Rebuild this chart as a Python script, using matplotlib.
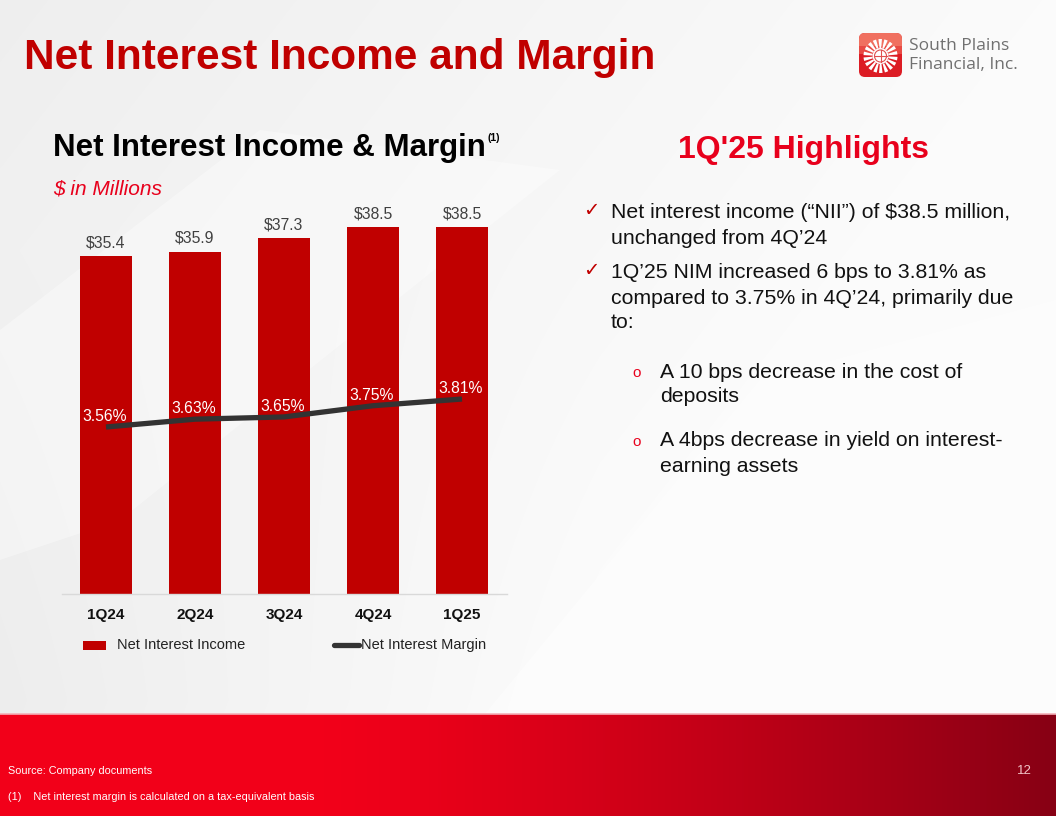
import numpy as np
import matplotlib
matplotlib.use("Agg")
import matplotlib.pyplot as plt
from matplotlib.patches import FancyBboxPatch, Wedge, Circle, Rectangle, Polygon
from matplotlib.lines import Line2D

plt.rcParams["font.family"] = ["Liberation Sans", "DejaVu Sans"]

# ---- data ----
quarters = ["1Q24", "2Q24", "3Q24", "4Q24", "1Q25"]
nii = [35.4, 35.9, 37.3, 38.5, 38.5]          # $ millions
nim = [3.56, 3.63, 3.65, 3.75, 3.81]          # percent

bullets = [
    ["Net interest income (\u201cNII\u201d) of $38.5 million,", "unchanged from 4Q\u201924"],
    ["1Q\u201925 NIM increased 6 bps to 3.81% as",
     "compared to 3.75% in 4Q\u201924, primarily due", "to:"],
]
sub_bullets = [
    ["A 10 bps decrease in the cost of", "deposits"],
    ["A 4bps decrease in yield on interest-", "earning assets"],
]

W, H = 1056, 816
RED = "#c00000"
BRIGHT = "#e8001c"

fig = plt.figure(figsize=(W / 100, H / 100), dpi=100)

# ---- slide background (pixel coordinate axes) ----
bg = fig.add_axes([0, 0, 1, 1])
bg.set_xlim(0, W)
bg.set_ylim(H, 0)
bg.axis("off")

yy, xx = np.mgrid[0:H, 0:W]
shade = 0.985 - 0.05 * np.clip(1 - (xx / W + 0.6 * yy / H), 0, 1)
shade -= 0.03 * np.clip((yy - 250) / 450, 0, 1) * np.clip(1 - xx / 600, 0, 1)
img = np.dstack([shade, shade, shade])
bg.imshow(img, extent=(0, W, H, 0), zorder=0, aspect="auto")

# soft diagonal light shapes
bg.add_patch(Polygon([[0, 330], [260, 130], [560, 170], [120, 520], [0, 560]],
                     closed=True, color="white", alpha=0.35, lw=0, zorder=1))
bg.add_patch(Polygon([[480, 720], [760, 380], [1056, 300], [1056, 720]],
                     closed=True, color="white", alpha=0.45, lw=0, zorder=1))

# footer band
fx = np.linspace(0, 1, 600)
ramp = np.clip((fx - 0.3) / 0.7, 0, 1) ** 1.3
r = 0.95 - 0.42 * ramp
g = 0.0 * ramp
b = 0.10 - 0.02 * ramp
band = np.dstack([np.tile(r, (40, 1)), np.tile(g, (40, 1)), np.tile(b, (40, 1))])
bg.imshow(band, extent=(0, W, H, 714), zorder=2, aspect="auto")
bg.plot([0, W], [714, 714], color="#f4b0b8", lw=1.2, zorder=3)

# ---- titles ----
bg.text(24, 58, "Net Interest Income and Margin", color=RED, fontsize=30.5,
        fontweight="bold", va="center", ha="left", zorder=5)
bg.text(53, 148, "Net Interest Income & Margin", color="black", fontsize=22.5,
        fontweight="bold", va="center", ha="left", zorder=5)
bg.text(488, 138, "(1)", color="black", fontsize=7.5, fontweight="bold",
        va="center", ha="left", zorder=5)
bg.text(53, 189, "$ in Millions", color=BRIGHT, fontsize=15, style="italic",
        va="center", ha="left", zorder=5)

# ---- logo ----
bg.add_patch(FancyBboxPatch((859, 33), 43, 44, boxstyle="round,pad=0,rounding_size=6",
                            fc="#dc1c24", ec="none", zorder=5))
bg.add_patch(FancyBboxPatch((859, 33), 43, 20, boxstyle="round,pad=0,rounding_size=6",
                            fc="#f07060", ec="none", zorder=5))
bg.add_patch(Rectangle((859, 46), 43, 8, fc="#e84a44", ec="none", zorder=5))
for k in range(18):
    a = k * 360 / 18
    bg.add_patch(Wedge((880.5, 56), 17, a + 3, a + 15, width=9, fc="white", ec="none", zorder=6))
bg.add_patch(Circle((880.5, 56), 8, fc="white", ec="none", zorder=6))
bg.add_patch(Circle((880.5, 56), 6, fc="none", ec="#e05050", lw=0.8, zorder=7))
bg.plot([874.5, 886.5], [56, 56], color="#e05050", lw=0.8, zorder=7)
bg.plot([880.5, 880.5], [50, 62], color="#e05050", lw=0.8, zorder=7)
bg.text(909, 46, "South Plains", color="#707070", fontsize=12.5, family="Open Sans",
        va="center", ha="left", zorder=5)
bg.text(909, 65, "Financial, Inc.", color="#707070", fontsize=12.5, family="Open Sans",
        va="center", ha="left", zorder=5)

# ---- highlights ----
bg.text(803, 150, "1Q'25 Highlights", color=BRIGHT, fontsize=23, fontweight="bold",
        va="center", ha="center", zorder=5)
ys_main = [[213, 238], [273, 298, 322]]
for lines, ys in zip(bullets, ys_main):
    bg.text(591, ys[0] - 2, "\u2713", color=RED, fontsize=14, family="DejaVu Sans",
            va="center", ha="center", zorder=5)
    for t, y in zip(lines, ys):
        bg.text(611, y, t, color="#111111", fontsize=15.3, va="center", ha="left", zorder=5)
ys_sub = [[372, 397], [441, 466]]
for lines, ys in zip(sub_bullets, ys_sub):
    bg.text(637, ys[0] + 1, "o", color=BRIGHT, fontsize=11, va="center", ha="center", zorder=5)
    for t, y in zip(lines, ys):
        bg.text(660, y, t, color="#111111", fontsize=15.3, va="center", ha="left", zorder=5)

# ---- footer text ----
narrow = ["Liberation Sans Narrow", "Liberation Sans"]
bg.text(8, 771, "Source: Company documents", color="white", fontsize=7.8, family=narrow,
        va="center", ha="left", zorder=5)
bg.text(8, 797, "(1)    Net interest margin is calculated on a tax-equivalent basis",
        color="white", fontsize=7.8, family=narrow, va="center", ha="left", zorder=5)
bg.text(1032, 771, "12", color="#f2c4c8", fontsize=9.5, family=narrow,
        va="center", ha="right", zorder=5)

# ---- chart ----
ax = fig.add_axes([61.5 / W, (H - 594) / H, 445 / W, 394 / H])
ax.patch.set_alpha(0)
x = np.arange(len(quarters))
ax.bar(x, nii, width=0.585, color=RED, zorder=2)
ax.set_xlim(-0.5, len(quarters) - 0.5)
ax.set_ylim(0, 41.3)
for sp in ["top", "right", "left"]:
    ax.spines[sp].set_visible(False)
ax.spines["bottom"].set_color("#d9d9d9")
ax.spines["bottom"].set_linewidth(1)
ax.set_yticks([])
ax.set_xticks(x)
ax.set_xticklabels(quarters, fontsize=11, fontweight="bold", color="#111111")
ax.tick_params(axis="x", length=0, pad=10)
for xi, v in zip(x, nii):
    ax.annotate(f"${v:.1f}", (xi, v), xytext=(0, 4), textcoords="offset points",
                ha="center", va="bottom", fontsize=11.3, color="#404040")

ax2 = ax.twinx()
ax2.set_ylim(2.069, 5.587)
ax2.axis("off")
ax2.plot(x, nim, color="#333333", lw=3.8, solid_capstyle="butt", zorder=3)
for xi, v in zip(x, nim):
    ax2.annotate(f"{v:.2f}%", (xi, v), xytext=(-1, 2), textcoords="offset points",
                 ha="center", va="bottom", fontsize=11.3, color="white")

# legend drawn in slide coordinates
bg.add_patch(Rectangle((83, 641), 23, 9, fc=RED, ec="none", zorder=5))
bg.text(117, 645, "Net Interest Income", fontsize=10.5, color="#222222",
        va="center", ha="left", zorder=5)
bg.add_line(Line2D([334, 359], [645, 645], color="#333333", lw=3.8,
                   solid_capstyle="round", zorder=5))
bg.text(361, 645, "Net Interest Margin", fontsize=10.5, color="#222222",
        va="center", ha="left", zorder=5)

fig.savefig("out.png", dpi=100)
